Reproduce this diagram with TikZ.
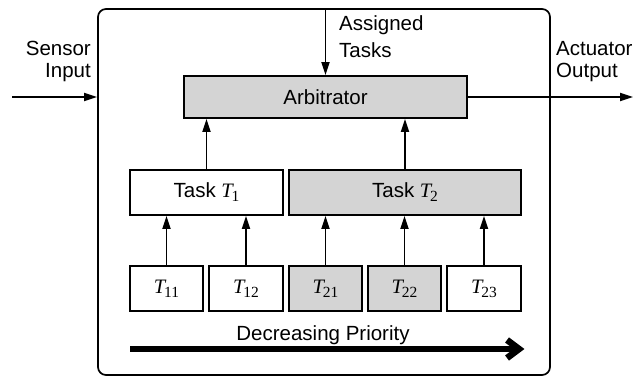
\documentclass[tikz,border=0pt]{standalone}
\usepackage{fontspec}
\setmainfont{Liberation Sans}
\newfontfamily\tmfont{Liberation Serif}
\usetikzlibrary{arrows.meta}
\definecolor{boxgray}{RGB}{212,212,212}
% task symbol T with an upright subscript, Times-like
\newcommand{\Tsym}[1]{{\tmfont\fontsize{20.5}{20.5}\selectfont\itshape T}\kern-1.2pt\raisebox{-4pt}{\tmfont\fontsize{15.5}{15.5}\selectfont #1}}
\newcommand{\lblfont}{\fontsize{20.5}{22.5}\selectfont}
\tikzset{
  lbl/.style={font=\lblfont, inner sep=0pt},
  taskbox/.style={draw, line width=1.7pt, inner sep=0pt, minimum height=45pt, font=\lblfont},
  grayfill/.style={fill=boxgray},
  flow/.style={line width=1.8pt, -{Triangle[length=13pt,width=8pt]}},
  frame/.style={draw, line width=1.7pt, rounded corners=8pt, inner sep=0pt}
}
\begin{document}
\begin{tikzpicture}[x=1pt, y=-1pt]
\useasboundingbox (0,0) rectangle (640,377);

% enclosing controller frame
\node[frame, minimum width=452pt, minimum height=366pt] (frame) at (324,192) {};

% arbitrator
\node[taskbox, grayfill, minimum width=283pt, minimum height=42pt] (arb) at (325.5,97) {Arbitrator};

% task level
\node[taskbox, minimum width=153pt] (t1) at (206.5,192.5) {Task \Tsym{1}};
\node[taskbox, grayfill, minimum width=232pt] (t2) at (405,192.5) {Task \Tsym{2}};

% subtask level
\node[taskbox, minimum width=73pt] (t11) at (166.5,288.5) {\Tsym{11}};
\node[taskbox, minimum width=74pt] (t12) at (246,288.5) {\Tsym{12}};
\node[taskbox, grayfill, minimum width=73pt] (t21) at (325.5,288.5) {\Tsym{21}};
\node[taskbox, grayfill, minimum width=73pt] (t22) at (404.5,288.5) {\Tsym{22}};
\node[taskbox, minimum width=74pt] (t23) at (484,288.5) {\Tsym{23}};

% external labels (base anchor sits on the last line)
\node[lbl, align=right, anchor=base east] (sensor) at (91,78) {Sensor\\Input};
\node[lbl, align=left, anchor=base west] (assigned) at (339,58) {Assigned\\[4.5pt]Tasks};
\node[lbl, align=left, anchor=base west] (actuator) at (556,78) {Actuator\\Output};
\node[lbl, anchor=base] (prio) at (323,340) {Decreasing Priority};

% inputs and outputs
\coordinate (sin) at (12,97);
\coordinate (aout) at (633,97);
\draw[flow] (sin) -- (sin -| frame.west);
\draw[flow] (arb.north |- frame.north) -- (arb.north);
\draw[flow] (arb.east) -- (aout);

% tasks to arbitrator
\draw[flow] (t1.north) -- (t1.north |- arb.south);
\draw[flow] (t2.north) -- (t2.north |- arb.south);

% subtasks to tasks
\draw[flow] (t11.north) -- (t11.north |- t1.south);
\draw[flow] (t12.north) -- (t12.north |- t1.south);
\draw[flow] (t21.north) -- (t21.north |- t2.south);
\draw[flow] (t22.north) -- (t22.north |- t2.south);
\draw[flow] (t23.north) -- (t23.north |- t2.south);

% priority arrow
\coordinate (pstart) at (130,349);
\coordinate (pend) at (519,349);
\draw[line width=6.5pt] (pstart) -- ([xshift=-2pt]pend);
\draw[line width=6.5pt, miter limit=10] ([shift={(-12pt,9pt)}]pend) -- (pend) -- ([shift={(-12pt,-9pt)}]pend);
\end{tikzpicture}
\end{document}
